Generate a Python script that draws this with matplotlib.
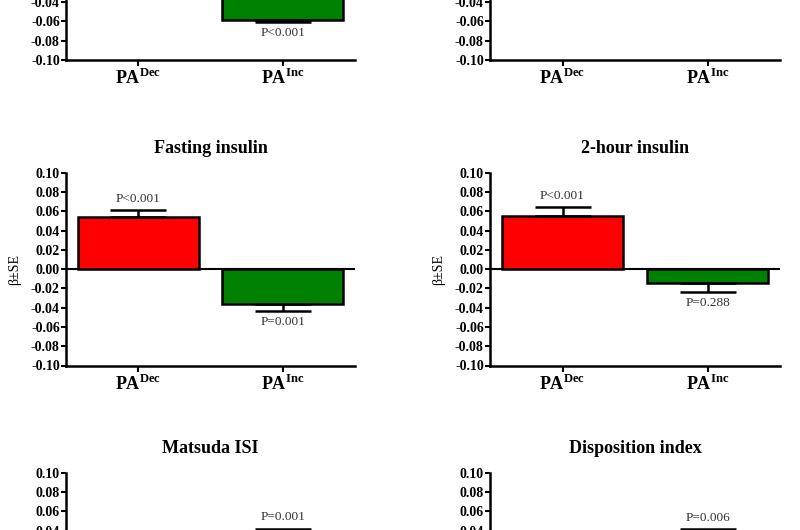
import numpy as np
import matplotlib
matplotlib.use("Agg")
import matplotlib.pyplot as plt

plt.rcParams["font.family"] = ["Liberation Serif", "DejaVu Serif"]
plt.rcParams["mathtext.fontset"] = "custom"
plt.rcParams["mathtext.rm"] = "Liberation Serif"
plt.rcParams["mathtext.bf"] = "Liberation Serif:bold"
plt.rcParams["axes.unicode_minus"] = False

# panel data (row-major, 3 rows x 2 cols; top and bottom rows are cropped)
titles = ["", "", "Fasting insulin", "2-hour insulin", "Matsuda ISI", "Disposition index"]
groups = [r"$\mathbf{PA}^{\mathbf{Dec}}$", r"$\mathbf{PA}^{\mathbf{Inc}}$"]
beta_dec = [0.050, 0.020, 0.054, 0.055, -0.030, -0.020]
se_dec = [0.006, 0.006, 0.007, 0.009, 0.006, 0.006]
beta_inc = [-0.058, -0.015, -0.036, -0.014, 0.036, 0.035]
se_inc = [0.0025, 0.006, 0.007, 0.0095, 0.006, 0.0065]
p_dec = [None, None, "P<0.001", "P<0.001", None, None]
p_inc = ["P<0.001", None, "P=0.001", "P=0.288", "P=0.001", "P=0.006"]
yticks = np.round(np.arange(-0.10, 0.1001, 0.02), 2)
# tick labels that fall inside the cropped view, per row
visible = [(-0.10, -0.04), (-0.10, 0.10), (0.04, 0.10)]

W, H = 800, 530
fig = plt.figure(figsize=(8, 5.3), dpi=100)

col_x = [(66, 355), (490, 780)]
row_top = [-132.8, 172.7, 472.7]
ax_h = 192.8

bar_colors = ["#ff0000", "#008000"]

for i in range(6):
    r, c = divmod(i, 2)
    x0, x1 = col_x[c]
    top = row_top[r]
    ax = fig.add_axes([x0 / W, (H - top - ax_h) / H, (x1 - x0) / W, ax_h / H])

    vals = [beta_dec[i], beta_inc[i]]
    ses = [se_dec[i], se_inc[i]]
    pvals = [p_dec[i], p_inc[i]]

    ax.axhline(0, color="black", lw=1.5, zorder=1)
    for k in range(2):
        v, s = vals[k], ses[k]
        yerr = [[0], [s]] if v >= 0 else [[s], [0]]
        ax.bar(k, v, width=0.84, color=bar_colors[k], edgecolor="black",
               linewidth=1.8, zorder=2)
        ax.errorbar(k, v, yerr=yerr, fmt="none", ecolor="black",
                    elinewidth=1.8, capsize=20, capthick=1.8, zorder=3)
        if pvals[k]:
            if v >= 0:
                ax.annotate(pvals[k], (k, v + s), xytext=(0, 4),
                            textcoords="offset points", ha="center",
                            va="bottom", fontsize=9.5, color="#333333")
            else:
                ax.annotate(pvals[k], (k, v - s), xytext=(0, -4),
                            textcoords="offset points", ha="center",
                            va="top", fontsize=9.5, color="#333333")

    lo, hi = visible[r]
    labels = [f"{t:.2f}" if lo - 1e-9 <= t <= hi + 1e-9 else "" for t in yticks]
    ax.set_xlim(-0.5, 1.5)
    ax.set_ylim(-0.10, 0.10)
    ax.set_yticks(yticks, labels=labels, fontweight="bold", fontsize=10)
    # bottom row is cropped above its x axis
    ax.set_xticks([0, 1], labels=groups if r < 2 else ["", ""], fontsize=13)
    ax.tick_params(axis="y", direction="out", length=3.5, width=1.5, pad=1)
    ax.tick_params(axis="x", direction="out", length=4, width=1.5, pad=2)
    for side in ["top", "right"]:
        ax.spines[side].set_visible(False)
    for side in ["left", "bottom"]:
        ax.spines[side].set_linewidth(1.8)
    if r == 1:
        ax.set_ylabel("β±SE", fontsize=10, labelpad=7)
    if titles[i]:
        ax.set_title(titles[i], fontsize=13, fontweight="bold", pad=14)

fig.savefig("out.png", dpi=100)
